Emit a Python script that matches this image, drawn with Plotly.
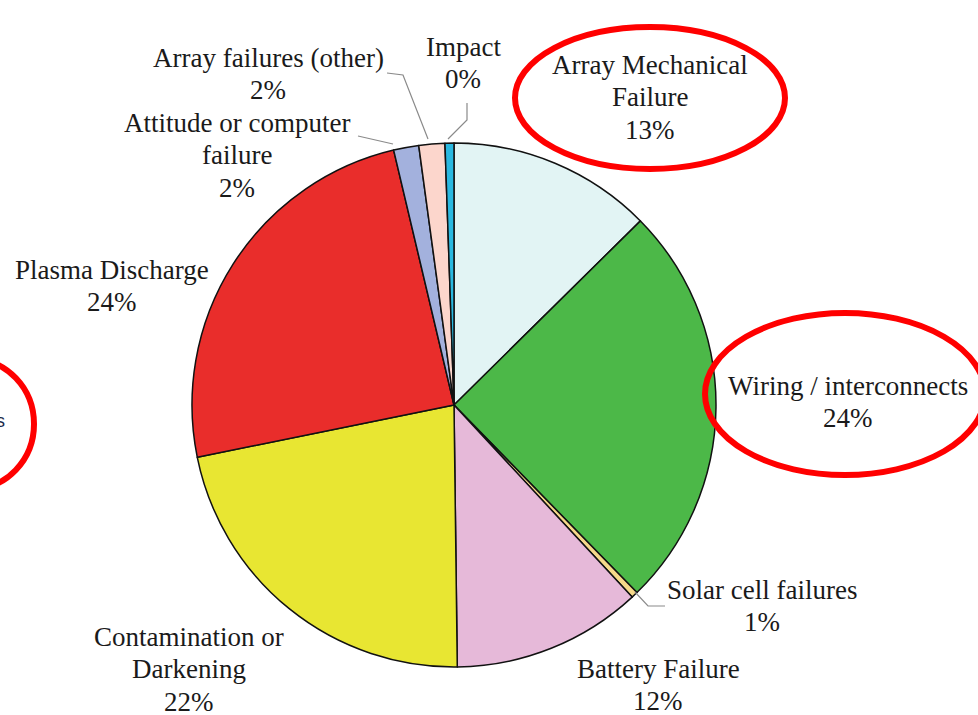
import plotly.graph_objects as go

W, H = 978, 715

# Data (slice sizes; printed labels separately)
categories = ["Array Mechanical Failure", "Wiring / interconnects", "Solar cell failures",
              "Battery Failure", "Contamination or Darkening", "Plasma Discharge",
              "Attitude or computer failure", "Array failures (other)", "Impact"]
values = [12.6, 25.1, 0.4, 11.7, 22.0, 24.5, 1.55, 1.6, 0.55]
pct_labels = ["13%", "24%", "1%", "12%", "22%", "24%", "2%", "2%", "0%"]
label_lines = [["Array Mechanical", "Failure"], ["Wiring / interconnects"], ["Solar cell failures"],
               ["Battery Failure"], ["Contamination or", "Darkening"], ["Plasma Discharge"],
               ["Attitude or computer", "failure"], ["Array failures (other)"], ["Impact"]]
colors = ["#e2f4f4", "#4cb848", "#f6d98a", "#e6b9d9", "#e8e632", "#e92d2b",
          "#a3b1dd", "#fcd6cc", "#2ab8e0"]


def px(x):
    return x / W


def py(y):
    return 1 - y / H


cx, cy, r = 454, 405, 262

fig = go.Figure(go.Pie(
    labels=categories, values=values, sort=False, direction="clockwise", rotation=0,
    marker=dict(colors=colors, line=dict(color="#111111", width=1.5)),
    textinfo="none", hoverinfo="label+percent", showlegend=False,
    domain=dict(x=[px(cx - r), px(cx + r)], y=[py(cy + r), py(cy - r)]),
))

# label positions (pixel centre of first line)
label_pos = [(650, 65), (848, 386), (762, 590), (658, 669), (189, 637), (112, 270),
             (237, 123), (268, 58), (463, 47)]
line_h = 32.3
annotations = []
for lines, pct, (lx, ly) in zip(label_lines, pct_labels, label_pos):
    for i, t in enumerate(lines + [pct]):
        annotations.append(dict(
            x=px(lx), y=py(ly + i * line_h), xref="paper", yref="paper", showarrow=False,
            text=t, align="center", xanchor="center", yanchor="middle",
            font=dict(family="Liberation Serif", size=27, color="#1a1a1a"),
        ))
annotations.append(dict(x=px(7), y=py(421), xref="paper", yref="paper", showarrow=False,
                        text="s", xanchor="right", yanchor="middle",
                        font=dict(family="Liberation Sans", size=18, color="#1a2a4a")))

shapes = []


def leader(points):
    path = "M " + " L ".join(f"{px(x)},{py(y)}" for x, y in points)
    shapes.append(dict(type="path", path=path, xref="paper", yref="paper",
                       line=dict(color="#8a8a8a", width=1.2)))


leader([(358, 136), (393, 144)])
leader([(387, 73), (403, 75), (428, 139)])
leader([(467, 103), (467, 120), (448, 139)])
leader([(635, 592), (648, 606), (665, 606)])


def ellipse(x0, y0, x1, y1):
    shapes.append(dict(type="circle", xref="paper", yref="paper",
                       x0=px(x0), x1=px(x1), y0=py(y1), y1=py(y0),
                       line=dict(color="#ff0000", width=6), fillcolor="rgba(0,0,0,0)"))


ellipse(515, 27, 785, 169)
ellipse(705, 313, 985, 475)
ellipse(-90, 359, 34, 489)

fig.update_layout(
    width=W, height=H, margin=dict(l=0, r=0, t=0, b=0),
    paper_bgcolor="white", plot_bgcolor="white",
    annotations=annotations, shapes=shapes,
)
fig.write_html("out.html", config={"displayModeBar": False},
               post_script="document.body.style.margin='0';")
